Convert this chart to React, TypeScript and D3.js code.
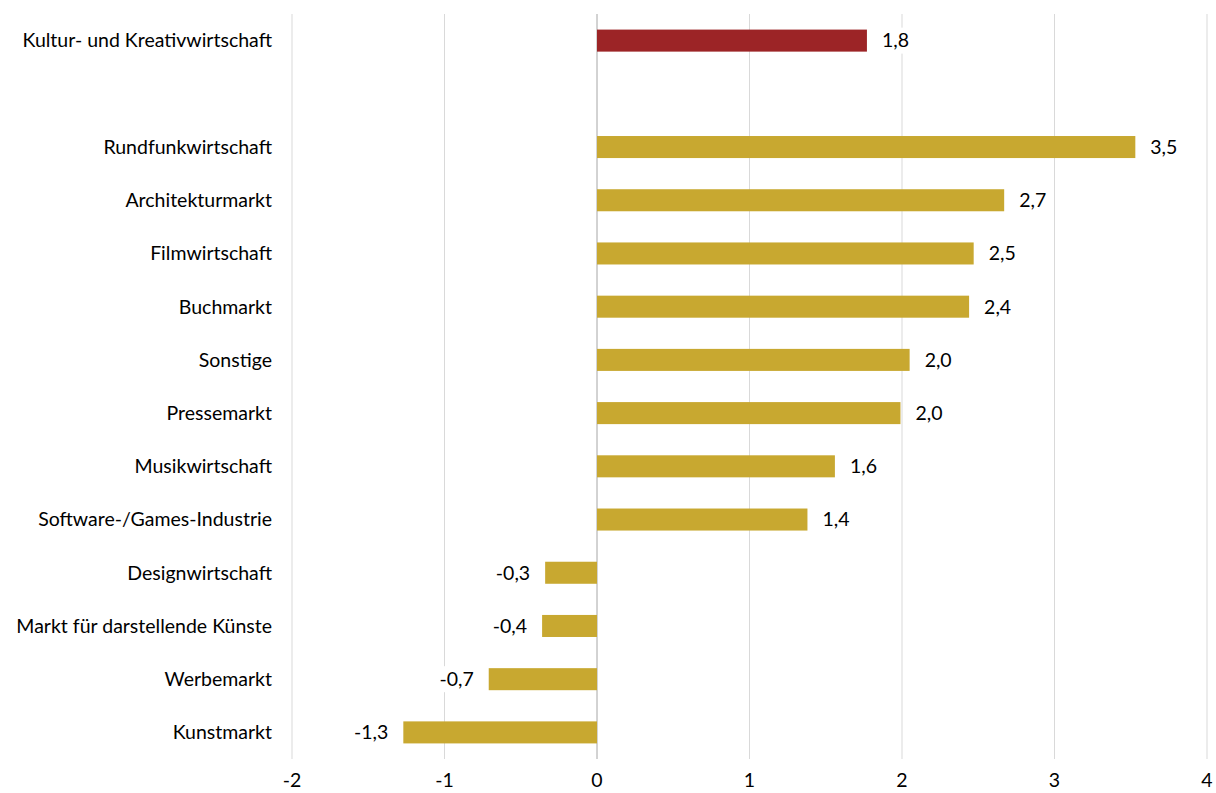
import React from "react";
import * as d3 from "d3";

const categories = [
  "Kultur- und Kreativwirtschaft",
  "",
  "Rundfunkwirtschaft",
  "Architekturmarkt",
  "Filmwirtschaft",
  "Buchmarkt",
  "Sonstige",
  "Pressemarkt",
  "Musikwirtschaft",
  "Software-/Games-Industrie",
  "Designwirtschaft",
  "Markt für darstellende Künste",
  "Werbemarkt",
  "Kunstmarkt",
];
const values: (number | null)[] = [1.77, null, 3.53, 2.67, 2.47, 2.44, 2.05, 1.99, 1.56, 1.38, -0.34, -0.36, -0.71, -1.27];
const labels = ["1,8", "", "3,5", "2,7", "2,5", "2,4", "2,0", "2,0", "1,6", "1,4", "-0,3", "-0,4", "-0,7", "-1,3"];
const ticks = [-2, -1, 0, 1, 2, 3, 4];

const W = 1216;
const H = 793;
const FONT = "Lato, 'Open Sans', sans-serif";
const FS = 19.5;

export default function App() {
  const x = d3.scaleLinear().domain([-2, 4]).range([292, 1207]);
  const y = d3
    .scaleBand<string>()
    .domain(categories.map((c, i) => String(i)))
    .range([14, 759])
    .paddingInner(0.586)
    .paddingOuter(0.293);
  const bw = y.bandwidth();
  return (
    <svg
      width={W}
      height={H}
      style={{ position: "absolute", left: 0, top: 0, background: "#fff" }}
      fontFamily={FONT}
    >
      {ticks.map((t) => (
        <line
          key={"g" + t}
          x1={x(t)}
          x2={x(t)}
          y1={14}
          y2={759}
          stroke={t === 0 ? "#a6a6a6" : "#d9d9d9"}
          strokeWidth={1}
        />
      ))}
      {values.map((v, i) => {
        if (v === null) return null;
        const yy = y(String(i))!;
        const x0 = x(Math.min(0, v));
        const w = Math.abs(x(v) - x(0));
        return (
          <rect key={"b" + i} x={x0} y={yy} width={w} height={bw} fill={i === 0 ? "#9c2426" : "#c8a830"} />
        );
      })}
      {values.map((v, i) => {
        if (v === null) return null;
        const yc = y(String(i))! + bw / 2;
        const pos = v >= 0;
        const tx = pos ? x(v) + 15 : x(v) - 15;
        const tw = labels[i].length * 9;
        return (
          <g key={"l" + i}>
            <rect x={pos ? tx - 2 : tx - tw - 2} y={yc - 13} width={tw + 4} height={26} fill="#fff" />
            <text x={tx} y={yc} dy="0.35em" fontSize={FS} textAnchor={pos ? "start" : "end"} fill="#000">
              {labels[i]}
            </text>
          </g>
        );
      })}
      {categories.map((c, i) =>
        c ? (
          <text
            key={"c" + i}
            x={272}
            y={y(String(i))! + bw / 2}
            dy="0.35em"
            fontSize={FS}
            textAnchor="end"
            fill="#000"
          >
            {c}
          </text>
        ) : null
      )}
      {ticks.map((t) => (
        <text key={"t" + t} x={x(t)} y={787} fontSize={FS} textAnchor="middle" fill="#000">
          {String(t)}
        </text>
      ))}
    </svg>
  );
}
